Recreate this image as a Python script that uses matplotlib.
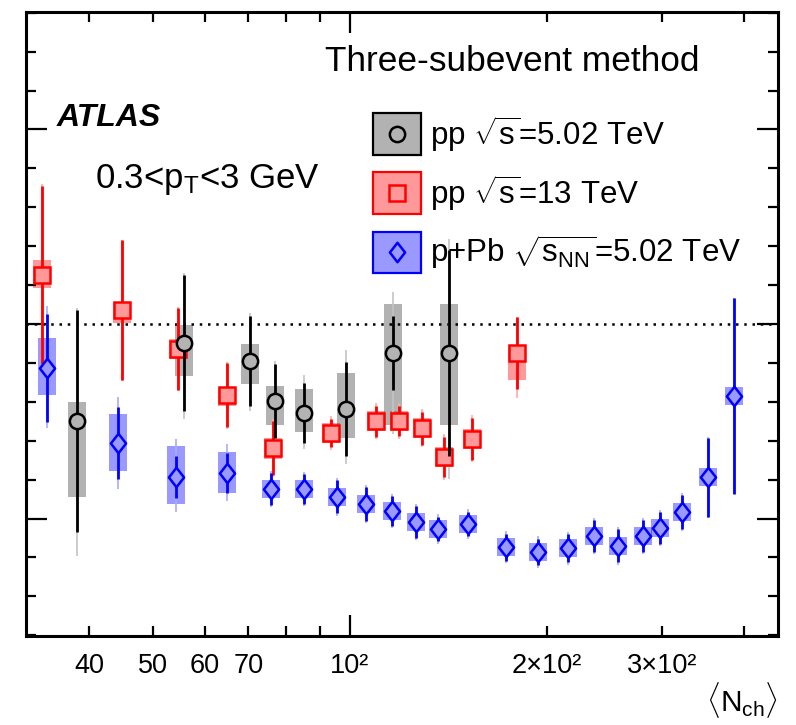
import numpy as np
import matplotlib
matplotlib.use("Agg")
import matplotlib.pyplot as plt
from matplotlib.patches import Rectangle
from matplotlib.path import Path
from matplotlib.ticker import FixedLocator, FixedFormatter, NullFormatter

plt.rcParams['font.family'] = ['Liberation Sans', 'DejaVu Sans']
plt.rcParams['mathtext.fontset'] = 'custom'
plt.rcParams['mathtext.rm'] = 'Liberation Sans'
plt.rcParams['mathtext.it'] = 'Liberation Sans:italic'
plt.rcParams['mathtext.bf'] = 'Liberation Sans:bold'

# ---------------- data (y in arbitrary units, major tick = 1) ----------------
pp5_x = [38.3, 55.7, 70.3, 76.8, 85.0, 98.6, 116.4, 141.8]
pp5_y = [-0.499, -0.098, -0.190, -0.396, -0.458, -0.437, -0.149, -0.149]
pp5_stat = [0.571, 0.35, 0.23, 0.19, 0.154, 0.24, 0.188, 0.53]
pp5_sys_lo = [0.391, 0.170, 0.118, 0.123, 0.098, 0.149, 0.370, 0.370]
pp5_sys_hi = [0.098, 0.093, 0.087, 0.077, 0.123, 0.185, 0.252, 0.252]

pp13_x = [33.8, 44.9, 54.7, 65.0, 76.2, 93.5, 109.6, 118.9, 128.9, 139.3, 153.8, 180.2]
pp13_y = [0.252, 0.072, -0.129, -0.365, -0.638, -0.560, -0.499, -0.499, -0.535, -0.684, -0.591, -0.149]
pp13_stat = [0.46, 0.36, 0.21, 0.165, 0.139, 0.072, 0.08, 0.077, 0.085, 0.105, 0.11, 0.183]
pp13_sys_lo = [0.067, 0.067, 0.05, 0.057, 0.054, 0.05, 0.05, 0.05, 0.05, 0.05, 0.05, 0.139]
pp13_sys_hi = [0.077, 0.04, 0.05, 0.04, 0.054, 0.05, 0.05, 0.05, 0.05, 0.05, 0.05, 0.041]

pPb_x = [34.5, 44.3, 54.3, 64.8, 75.7, 85.0, 95.5, 105.8, 116.0, 126.2, 136.4, 151.6,
         173.3, 194.0, 215.7, 236.4, 257.3, 280.1, 297.4, 321.3, 352.2, 385.9]
pPb_y = [-0.226, -0.612, -0.787, -0.766, -0.848, -0.848, -0.889, -0.925, -0.961, -1.018,
         -1.054, -1.028, -1.147, -1.172, -1.152, -1.090, -1.141, -1.090, -1.049, -0.967,
         -0.787, -0.370]
pPb_stat = [0.278, 0.185, 0.11, 0.103, 0.08, 0.075, 0.085, 0.087, 0.077, 0.082, 0.064,
            0.064, 0.069, 0.067, 0.072, 0.082, 0.085, 0.082, 0.082, 0.087, 0.203, 0.504]
pPb_sys_lo = [0.139, 0.144, 0.139, 0.103] + [0.045] * 18
pPb_sys_hi = [0.154, 0.149, 0.159, 0.108] + [0.045] * 18

xtick_minor = [40, 50, 60, 70, 80, 90, 200, 300, 400]
xtick_minor_labels = ['40', '50', '60', '70', '', '', '2×10²', '3×10²', '']
xtick_major = [100]
xtick_major_labels = ['10²']

labels = [r'pp $\sqrt{\mathrm{s}}$=5.02 TeV',
          r'pp $\sqrt{\mathrm{s}}$=13 TeV',
          r'p+Pb $\sqrt{\mathrm{s}_{\mathrm{NN}}}$=5.02 TeV']

# ---------------- figure ----------------
fig = plt.figure(figsize=(7.96, 7.25), dpi=100)
ax = fig.add_axes([26/796, 1-636/725, 752/796, 624/725])
ax.set_xscale('log')
ax.set_xlim(32.0, 451.0)
ax.set_ylim(-1.604, 1.604)

diamond = Path([(0, 1), (0.78, 0), (0, -1), (-0.78, 0), (0, 1)],
               [Path.MOVETO, Path.LINETO, Path.LINETO, Path.LINETO, Path.CLOSEPOLY])

hw = 1.0322  # box half-width factor (log scale)

series = [
    dict(x=pp5_x, y=pp5_y, st=pp5_stat, lo=pp5_sys_lo, hi=pp5_sys_hi,
         dark='black', box=(0, 0, 0, 0.30), light='#c4c4c4', face='#b3b3b3',
         marker='o', ms=11, zl=4.5, zm=5.0),
    dict(x=pp13_x, y=pp13_y, st=pp13_stat, lo=pp13_sys_lo, hi=pp13_sys_hi,
         dark='red', box=(1, 0, 0, 0.40), light='#ffaaaa', face='#ff9999',
         marker='s', ms=11, zl=3.0, zm=4.0),
    dict(x=pPb_x, y=pPb_y, st=pPb_stat, lo=pPb_sys_lo, hi=pPb_sys_hi,
         dark='blue', box=(0, 0, 1, 0.40), light='#aaaaff', face='#9999ff',
         marker=diamond, ms=14, zl=3.0, zm=4.0),
]

for s in series:
    x = np.array(s['x']); y = np.array(s['y'])
    st = np.array(s['st']); lo = np.array(s['lo']); hi = np.array(s['hi'])
    for xi, yi, l, h in zip(x, y, lo, hi):
        ax.add_patch(Rectangle((xi/hw, yi-l), xi*hw - xi/hw, l+h,
                               facecolor=s['box'], edgecolor='none', zorder=1))
    tot_lo = np.sqrt(st**2 + lo**2); tot_hi = np.sqrt(st**2 + hi**2)
    ax.vlines(x, y-tot_lo, y+tot_hi, color=s['light'], lw=1.2, zorder=2)
    ax.vlines(x, y-st, y+st, color=s['dark'], lw=2.0, zorder=s['zl'])
    ax.plot(x, y, ls='none', marker=s['marker'], ms=s['ms'], mfc=s['face'],
            mec=s['dark'], mew=1.8, zorder=s['zm'])

ax.axhline(0, color='black', ls=(0, (1, 2.3)), lw=1.8, zorder=0.5)

# ticks
ax.xaxis.set_major_locator(FixedLocator(xtick_major))
ax.xaxis.set_major_formatter(FixedFormatter(xtick_major_labels))
ax.xaxis.set_minor_locator(FixedLocator(xtick_minor))
ax.xaxis.set_minor_formatter(FixedFormatter(xtick_minor_labels))
ax.set_yticks([-1, 0, 1])
ax.set_yticks(np.arange(-1.6, 1.61, 0.2), minor=True)
ax.yaxis.set_major_formatter(NullFormatter())
ax.yaxis.set_minor_formatter(NullFormatter())
ax.tick_params(which='both', direction='in', top=True, right=True, width=1.6,
               labelsize=19.5, pad=12)
ax.tick_params(which='major', length=15)
ax.tick_params(which='minor', length=7.5)
for sp in ax.spines.values():
    sp.set_linewidth(2.2)

# texts
ax.text(0.3976, 0.920, 'Three-subevent method', transform=ax.transAxes,
        fontsize=25.4, va='center', ha='left')
ax.text(0.041, 0.830, 'ATLAS', transform=ax.transAxes, fontsize=23,
        fontweight='bold', fontstyle='italic', va='center', ha='left')
ax.text(0.0918, 0.731, r'0.3<p$_{\mathrm{T}}$<3 GeV', transform=ax.transAxes,
        fontsize=25, va='center', ha='left')

# manual legend
leg_y = [0.8045, 0.7100, 0.6146]
leg_h = 0.066
for s, yc, lab in zip(series, leg_y, labels):
    ax.add_patch(Rectangle((0.4614, yc - leg_h/2), 0.0639, leg_h, transform=ax.transAxes,
                           facecolor=s['box'], edgecolor=s['dark'], lw=1.6, zorder=6))
    ax.plot([0.4934], [yc], transform=ax.transAxes, ls='none', marker=s['marker'],
            ms=s['ms'], mfc='none', mec=s['dark'], mew=1.8, zorder=7)
    ax.text(0.537, yc, lab, transform=ax.transAxes, fontsize=22.5,
            va='center', ha='left', zorder=7)

fig.text(0.977, 0.034, r'$\langle\mathrm{N}_{\mathrm{ch}}\rangle$', fontsize=21.5,
         ha='right', va='center')

fig.savefig('out.png', dpi=100)
